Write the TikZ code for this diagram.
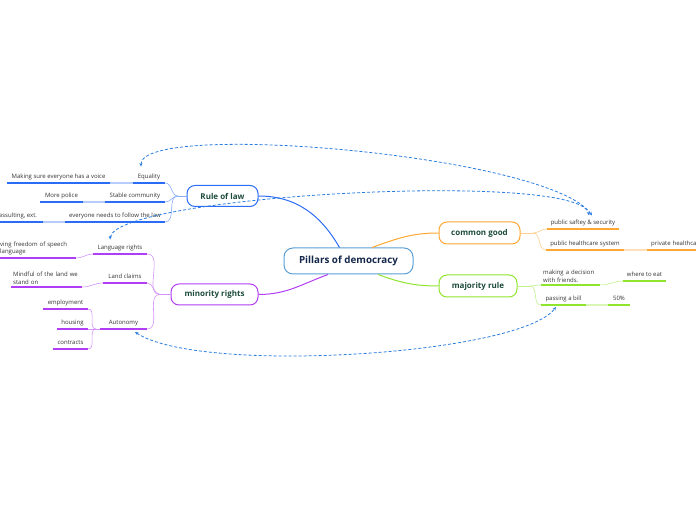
\documentclass[tikz,border=0pt]{standalone}
\usepackage{fontspec}
\setmainfont{Open Sans}
\usepackage{tikz}
\usetikzlibrary{arrows.meta}
\definecolor{lawblue}{HTML}{2B6CF6}
\definecolor{minpurple}{HTML}{B13DF5}
\definecolor{goodorange}{HTML}{FFA733}
\definecolor{majgreen}{HTML}{8FE42E}
\definecolor{rootblue}{HTML}{5A9FD6}
\definecolor{relblue}{HTML}{2A7DE1}
\definecolor{titlegreen}{HTML}{1C4B3C}
\definecolor{rootnavy}{HTML}{14264A}
\definecolor{labelgrey}{HTML}{333333}

\begin{document}
\begin{tikzpicture}[
  x=1pt, y=1pt,
  every node/.style={font=\fontsize{6}{7.8}\selectfont, text=labelgrey},
  root/.style={
    draw=rootblue,
    line width=1pt,
    rounded corners=9pt,
    fill=white,
    minimum width=129pt,
    minimum height=26pt,
    font=\fontsize{9.8}{11}\selectfont\bfseries,
    text=rootnavy,
  },
  topic/.style={
    draw=#1,
    line width=1pt,
    rounded corners=8pt,
    fill=white,
    minimum height=21pt,
    font=\fontsize{8}{9}\selectfont\bfseries,
    text=titlegreen,
  },
  sub/.style={
    anchor=south,
    inner xsep=0pt,
    inner ysep=2.5pt,
    text depth=1.5pt,
    minimum width=#1,
  },
  subl/.style={
    anchor=south west,
    inner xsep=4pt,
    inner ysep=2.5pt,
    text width=#1,
    align=left,
  },
  branch/.style={draw=#1, line width=1pt},
  uline/.style={draw=#1, line width=1.6pt},
  segment/.style={draw=#1!35, line width=1.6pt},
  twig/.style={draw=#1!55, line width=0.6pt},
  relation/.style={
    {Stealth[length=3.5pt,width=3pt]}-{Stealth[length=3.5pt,width=3pt]},
    draw=relblue,
    line width=0.8pt,
    dash pattern=on 3pt off 2pt,
  },
]
  \useasboundingbox (0,0) rectangle (696,520);

  \node[root] (root) at (348.5,259) {Pillars of democracy};
  \node[topic=lawblue, minimum width=71pt] (rol) at (222.5,324) {Rule of law};
  \node[topic=goodorange, minimum width=81pt, minimum height=22pt] (cg) at (479.5,287) {common good};
  \node[topic=majgreen, minimum width=78pt, minimum height=22pt] (maj) at (478,234) {majority rule};
  \node[topic=minpurple, minimum width=87pt] (mr) at (214.5,225.5) {minority rights};

  \draw[branch=lawblue] ([xshift=-9pt]root.north) to[out=120, in=0] (rol.east);
  \draw[branch=goodorange] ([xshift=23.5pt]root.north) to[out=20, in=180] (cg.west);
  \draw[branch=majgreen] ([xshift=29.5pt]root.south) to[out=-20, in=180] (maj.west);
  \draw[branch=minpurple] ([xshift=-20.5pt]root.south) to[out=200, in=0] (mr.east);

  % rule of law
  \node[sub=32pt] (eq) at (149,337) {Equality};
  \node[sub=103pt] (voice) at (58.5,337) {Making sure everyone has a voice};
  \node[sub=60pt] (stab) at (135,318) {Stable community};
  \node[sub=43pt] (police) at (61.5,318) {More police};
  \node[sub=100pt] (follow) at (115,298) {everyone needs to follow the law};
  \node[sub=50pt] (assault) at (18,298) {assulting, ext.};
  \coordinate (rolfork) at (178,324);
  \draw[twig=lawblue] (rol.west) -- (rolfork);
  \foreach \n in {eq, stab, follow}
    \draw[twig=lawblue] (rolfork) to[out=180, in=0] (\n.south east);
  \draw[segment=lawblue] (voice.south east) -- (eq.south west);
  \draw[segment=lawblue] (police.south east) -- (stab.south west);
  \draw[segment=lawblue] (assault.south east) -- (follow.south west);
  \foreach \n in {eq, voice, stab, police, follow, assault}
    \draw[uline=lawblue] (\n.south west) -- (\n.south east);

  % minority rights
  \node[sub=54pt] (lang) at (120,266) {Language rights};
  \node[subl=72pt] (speech) at (-4,262) {ving freedom of speech\\language};
  \node[sub=44pt] (land) at (125,237) {Land claims};
  \node[subl=67pt, inner xsep=2pt] (mindful) at (11,233) {Mindful of the land we\\stand on};
  \node[sub=47pt] (auto) at (123.5,191) {Autonomy};
  \node[sub=45pt] (empl) at (65.5,211) {employment};
  \node[sub=31pt] (hous) at (72.5,191) {housing};
  \node[sub=35pt] (contr) at (70.5,171) {contracts};
  \coordinate (mrfork) at (160,225.5);
  \coordinate (autofork) at (96,191);
  \draw[twig=minpurple] (mr.west) -- (mrfork);
  \foreach \n in {lang, land, auto}
    \draw[twig=minpurple] (mrfork) to[out=180, in=0] (\n.south east);
  \draw[twig=minpurple] (lang.south west) to[out=180, in=0] (speech.south east);
  \draw[twig=minpurple] (land.south west) to[out=180, in=0] (mindful.south east);
  \draw[twig=minpurple] (auto.south west) -- (autofork);
  \foreach \n in {empl, hous, contr}
    \draw[twig=minpurple] (autofork) to[out=180, in=0] (\n.south east);
  \foreach \n in {lang, speech, land, mindful, auto, empl, hous, contr}
    \draw[uline=minpurple] (\n.south west) -- (\n.south east);

  % common good
  \node[sub=72pt] (pss) at (583,291) {public saftey \& security};
  \node[sub=78pt] (phs) at (585,270) {public healthcare system};
  \node[subl=52pt] (priv) at (647,270) {private healthca};
  \coordinate (cgfork) at (533,287);
  \draw[twig=goodorange] (cg.east) -- (cgfork);
  \foreach \n in {pss, phs}
    \draw[twig=goodorange] (cgfork) to[out=0, in=180] (\n.south west);
  \draw[segment=goodorange] (phs.south east) -- (priv.south west);
  \foreach \n in {pss, phs, priv}
    \draw[uline=goodorange] (\n.south west) -- (\n.south east);

  % majority rule
  \node[subl=55pt, inner xsep=2pt] (dec) at (541,235) {making a decision\\with friends.};
  \node[sub=43pt] (eat) at (644.5,239) {where to eat};
  \node[sub=45pt] (bill) at (563.5,215) {passing a bill};
  \node[sub=22pt] (fifty) at (619,215) {50\%};
  \coordinate (majfork) at (530,234);
  \draw[twig=majgreen] (maj.east) -- (majfork);
  \foreach \n in {dec, bill}
    \draw[twig=majgreen] (majfork) to[out=0, in=180] (\n.south west);
  \draw[twig=majgreen] (dec.south east) to[out=0, in=180] (eat.south west);
  \draw[segment=majgreen] (bill.south east) -- (fifty.south west);
  \foreach \n in {dec, eat, bill, fifty}
    \draw[uline=majgreen] (\n.south west) -- (\n.south east);

  % relationships
  \draw[relation] ([shift={(-8pt,5pt)}]eq.north) .. controls (140,400) and (550,365) .. ([shift={(9pt,2pt)}]pss.north);
  \draw[relation] ([shift={(-10pt,3pt)}]lang.north) .. controls (115,325) and (580,350) .. ([shift={(6pt,2pt)}]pss.north);
  \draw[relation] ([shift={(11.5pt,-3pt)}]auto.south) .. controls (200,145) and (520,165) .. ([shift={(-7.5pt,-2pt)}]bill.south);
\end{tikzpicture}
\end{document}
